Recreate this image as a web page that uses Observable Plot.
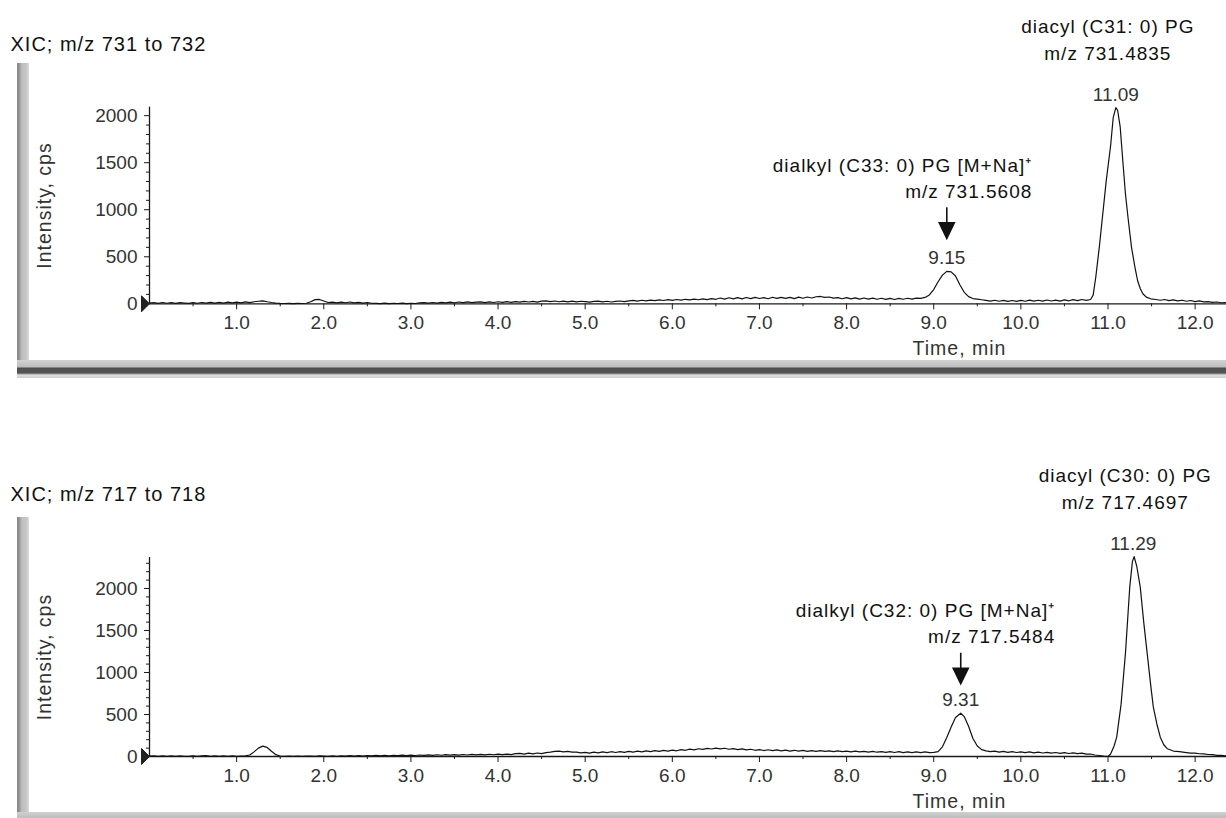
<!DOCTYPE html>
<html>
<head>
<meta charset="utf-8">
<script src="https://cdn.jsdelivr.net/npm/d3@7"></script>
<script src="https://cdn.jsdelivr.net/npm/@observablehq/plot@0.6"></script>
<style>
  body { margin: 0; background: #fff; }
  #wrap { position: relative; width: 1226px; height: 818px; overflow: hidden; background: #fff; }
  .panel { position: absolute; left: 0; width: 1226px; height: 409px; }
  .lbar { position: absolute; left: 17px; width: 12px;
    background: linear-gradient(to right, #8c8c8c 0px, #8c8c8c 2px, #a6a6a6 3px, #bfbfbf 5px, #c4c4c4 9px, #dcdcdc 12px); z-index: 2; }
  .bbar { position: absolute; left: 17px; right: 0; z-index: 2; }
  .bbar.top { background: linear-gradient(to bottom, #d2d2d2 0px, #bdbdbd 7px, #4f4f4f 8px, #555 13px, #e2e2e2 15px, #cdcdcd 18px); }
  .bbar.bot { background: linear-gradient(to bottom, #d0d0d0 0px, #bdbdbd 6px); }
</style>
</head>
<body>
<div id="wrap">
  <div class="panel" id="p1" style="top:0px"></div>
  <div class="panel" id="p2" style="top:409px"></div>
  <div class="lbar" style="top:63px;height:307px"></div>
  <div class="bbar top" style="top:360px;height:18px"></div>
  <div class="lbar" style="top:517px;height:301px"></div>
  <div class="bbar bot" style="top:812px;height:6px"></div>
</div>
<script>
// ---------- data ----------
const xTicks = [1, 2, 3, 4, 5, 6, 7, 8, 9, 10, 11, 12];
const xMinorTicks = [0.5, 1.5, 2.5, 3.5, 4.5, 5.5, 6.5, 7.5, 8.5, 9.5, 10.5, 11.5];
const yTicks = [0, 500, 1000, 1500, 2000];
const yMinorTicks = [100, 200, 300, 400, 600, 700, 800, 900, 1100, 1200, 1300, 1400, 1600, 1700, 1800, 1900, 2100, 2200, 2300];

// XIC m/z 731-732 : [time (min), intensity (cps)]
const trace731 = [[0,8],[0.05,12],[0.1,4],[0.15,14],[0.2,6],[0.25,12],[0.3,5],[0.35,13],[0.4,8],[0.45,4],[0.5,12],[0.55,6],[0.6,14],[0.65,7],[0.7,16],[0.75,8],[0.8,15],[0.85,7],[0.9,17],[0.95,9],[1.0,18],[1.05,10],[1.1,20],[1.15,12],[1.2,22],[1.25,27],[1.3,32],[1.35,22],[1.4,14],[1.45,8],[1.5,4],[1.55,3],[1.6,5],[1.65,2],[1.7,4],[1.75,3],[1.8,6],[1.85,22],[1.9,44],[1.95,46],[2.0,30],[2.05,14],[2.1,18],[2.15,10],[2.2,17],[2.25,11],[2.3,19],[2.35,10],[2.4,16],[2.45,8],[2.5,14],[2.55,6],[2.6,5],[2.65,2],[2.7,7],[2.75,2],[2.8,6],[2.85,3],[2.9,7],[2.95,2],[3.0,6],[3.05,3],[3.1,9],[3.15,12],[3.2,7],[3.25,14],[3.3,8],[3.35,16],[3.4,10],[3.45,17],[3.5,11],[3.55,19],[3.6,13],[3.65,20],[3.7,12],[3.75,18],[3.8,21],[3.85,13],[3.9,20],[3.95,14],[4.0,22],[4.05,15],[4.1,23],[4.15,16],[4.2,24],[4.25,17],[4.3,26],[4.35,19],[4.4,25],[4.45,18],[4.5,28],[4.55,32],[4.6,23],[4.65,30],[4.7,22],[4.75,29],[4.8,21],[4.85,28],[4.9,20],[4.95,27],[5.0,24],[5.05,18],[5.1,25],[5.15,28],[5.2,20],[5.25,27],[5.3,19],[5.35,26],[5.4,30],[5.45,23],[5.5,32],[5.55,36],[5.6,29],[5.65,38],[5.7,31],[5.75,40],[5.8,33],[5.85,42],[5.9,35],[5.95,44],[6.0,37],[6.05,46],[6.1,39],[6.15,48],[6.2,41],[6.25,50],[6.3,43],[6.35,52],[6.4,44],[6.45,55],[6.5,48],[6.55,62],[6.6,50],[6.65,64],[6.7,52],[6.75,66],[6.8,53],[6.85,67],[6.9,55],[6.95,68],[7.0,56],[7.05,66],[7.1,54],[7.15,70],[7.2,57],[7.25,69],[7.3,58],[7.35,68],[7.4,55],[7.45,71],[7.5,59],[7.55,72],[7.6,62],[7.65,75],[7.7,78],[7.75,68],[7.8,72],[7.85,60],[7.9,66],[7.95,54],[8.0,66],[8.05,52],[8.1,63],[8.15,50],[8.2,62],[8.25,49],[8.3,60],[8.35,48],[8.4,59],[8.45,47],[8.5,58],[8.55,46],[8.6,57],[8.65,48],[8.7,59],[8.75,50],[8.8,60],[8.85,58],[8.9,68],[8.95,94],[9.0,152],[9.05,234],[9.1,305],[9.15,345],[9.2,340],[9.25,295],[9.3,203],[9.35,122],[9.4,76],[9.45,56],[9.5,49],[9.55,43],[9.6,37],[9.65,29],[9.7,38],[9.75,27],[9.8,36],[9.85,26],[9.9,35],[9.95,25],[10.0,37],[10.05,27],[10.1,39],[10.15,29],[10.2,38],[10.25,28],[10.3,40],[10.35,30],[10.4,39],[10.45,29],[10.5,42],[10.55,32],[10.6,44],[10.65,34],[10.7,46],[10.75,37],[10.8,46],[10.83,92],[10.86,285],[10.9,600],[10.94,955],[10.98,1310],[11.03,1680],[11.06,1980],[11.09,2085],[11.11,2060],[11.14,1880],[11.17,1520],[11.2,1170],[11.23,915],[11.27,600],[11.31,385],[11.34,245],[11.37,162],[11.4,107],[11.44,71],[11.49,53],[11.55,46],[11.6,38],[11.65,46],[11.7,34],[11.75,42],[11.8,31],[11.85,38],[11.9,27],[11.95,35],[12.0,24],[12.05,31],[12.1,20],[12.15,24],[12.2,15],[12.25,19],[12.3,11],[12.35,14]];

// XIC m/z 717-718 : [time (min), intensity (cps)]
const trace717 = [[0,4],[0.05,9],[0.1,2],[0.15,8],[0.2,1],[0.25,7],[0.3,2],[0.35,9],[0.4,3],[0.45,1],[0.5,8],[0.55,2],[0.6,7],[0.65,10],[0.7,3],[0.75,8],[0.8,2],[0.85,9],[0.9,3],[0.95,8],[1.0,2],[1.05,6],[1.1,8],[1.15,18],[1.2,55],[1.25,100],[1.3,124],[1.35,108],[1.4,62],[1.45,22],[1.5,6],[1.55,2],[1.6,4],[1.65,3],[1.7,5],[1.75,2],[1.8,4],[1.85,6],[1.9,3],[1.95,8],[2.0,5],[2.05,2],[2.1,7],[2.15,3],[2.2,8],[2.25,4],[2.3,10],[2.35,5],[2.4,11],[2.45,6],[2.5,12],[2.55,7],[2.6,13],[2.65,8],[2.7,14],[2.75,9],[2.8,15],[2.85,10],[2.9,16],[2.95,11],[3.0,17],[3.05,12],[3.1,18],[3.15,13],[3.2,19],[3.25,14],[3.3,21],[3.35,15],[3.4,22],[3.45,16],[3.5,23],[3.55,17],[3.6,24],[3.65,18],[3.7,25],[3.75,19],[3.8,26],[3.85,20],[3.9,27],[3.95,21],[4.0,28],[4.05,22],[4.1,29],[4.15,23],[4.2,34],[4.25,38],[4.3,29],[4.35,40],[4.4,32],[4.45,42],[4.5,34],[4.55,47],[4.6,52],[4.65,60],[4.7,64],[4.75,55],[4.8,62],[4.85,52],[4.9,52],[4.95,44],[5.0,50],[5.05,41],[5.1,52],[5.15,44],[5.2,54],[5.25,46],[5.3,57],[5.35,48],[5.4,59],[5.45,50],[5.5,60],[5.55,52],[5.6,63],[5.65,55],[5.7,66],[5.75,58],[5.8,69],[5.85,61],[5.9,72],[5.95,64],[6.0,76],[6.05,68],[6.1,82],[6.15,74],[6.2,87],[6.25,79],[6.3,92],[6.35,84],[6.4,97],[6.45,89],[6.5,100],[6.55,90],[6.6,98],[6.65,86],[6.7,94],[6.75,82],[6.8,90],[6.85,78],[6.9,86],[6.95,74],[7.0,82],[7.05,71],[7.1,80],[7.15,69],[7.2,78],[7.25,67],[7.3,76],[7.35,65],[7.4,74],[7.45,64],[7.5,72],[7.55,62],[7.6,71],[7.65,61],[7.7,70],[7.75,60],[7.8,68],[7.85,58],[7.9,67],[7.95,57],[8.0,65],[8.05,56],[8.1,64],[8.15,54],[8.2,62],[8.25,53],[8.3,61],[8.35,51],[8.4,59],[8.45,50],[8.5,58],[8.55,48],[8.6,57],[8.65,47],[8.7,56],[8.75,46],[8.8,55],[8.85,47],[8.9,54],[8.95,46],[9.0,50],[9.05,58],[9.1,115],[9.15,225],[9.2,350],[9.25,465],[9.31,515],[9.35,475],[9.4,360],[9.45,215],[9.5,125],[9.55,82],[9.6,67],[9.65,58],[9.7,64],[9.75,53],[9.8,60],[9.85,50],[9.9,58],[9.95,48],[10.0,56],[10.05,46],[10.1,54],[10.15,44],[10.2,52],[10.25,42],[10.3,50],[10.35,40],[10.4,48],[10.45,38],[10.5,46],[10.55,36],[10.6,44],[10.65,34],[10.7,40],[10.75,28],[10.8,30],[10.85,18],[10.9,12],[10.95,4],[11.0,0],[11.03,30],[11.07,125],[11.1,230],[11.15,620],[11.2,1225],[11.25,2020],[11.28,2320],[11.3,2380],[11.33,2265],[11.37,2020],[11.41,1600],[11.45,1225],[11.49,850],[11.52,590],[11.56,390],[11.6,230],[11.64,140],[11.68,93],[11.75,65],[11.82,57],[11.9,47],[11.95,40],[12.0,40],[12.05,33],[12.1,32],[12.15,24],[12.2,23],[12.25,13],[12.3,14],[12.35,8]];

const peaks731 = [{t: 9.15, v: 345, label: "9.15"}, {t: 11.09, v: 2085, label: "11.09"}];
const peaks717 = [{t: 9.31, v: 515, label: "9.31"}, {t: 11.29, v: 2380, label: "11.29"}];

const notes731 = {
  title: "XIC; m/z 731 to 732",
  major: {t: 11.09, v: 2085, text: "diacyl (C31: 0) PG\nm/z 731.4835"},
  minor: {t: 9.15, v: 345, text: "dialkyl (C33: 0) PG [M+Na]\u207A\nm/z 731.5608"}
};
const notes717 = {
  title: "XIC; m/z 717 to 718",
  major: {t: 11.29, v: 2380, text: "diacyl (C30: 0) PG\nm/z 717.4697"},
  minor: {t: 9.31, v: 515, text: "dialkyl (C32: 0) PG [M+Na]\u207A\nm/z 717.5484"}
};

const xLabel = "Time, min";
const yLabel = "Intensity, cps";

// ---------- drawing ----------
const arrowDown = {
  draw(ctx) {
    ctx.moveTo(0, -31); ctx.lineTo(0, -14);
    ctx.moveTo(-7.5, -15.5); ctx.lineTo(7.5, -15.5); ctx.lineTo(0, 0); ctx.closePath();
  }
};
const originMarker = {
  draw(ctx) {
    ctx.moveTo(-8, -8); ctx.lineTo(0, 0); ctx.lineTo(-8, 8); ctx.closePath();
  }
};

function panel(trace, peaks, notes, o) {
  const data = trace.map(([t, v]) => ({t, v}));
  const svg = Plot.plot({
    width: 1226, height: 409,
    marginLeft: 149, marginRight: 0, marginTop: o.mt, marginBottom: o.mb,
    x: {domain: [0, 12.36], label: null},
    y: {domain: [0, o.yMax], label: null},
    style: {fontFamily: "'Liberation Sans', Arial, sans-serif", fontSize: "19px", color: "#1a1a1a", background: "transparent", overflow: "visible"},
    marks: [
      Plot.axisY(yMinorTicks.filter(d => d < o.yMax), {tickSize: 3, tickFormat: () => "", label: null, strokeWidth: 1}),
      Plot.axisY(yTicks, {tickSize: 5, tickPadding: 7, tickFormat: d => String(d), label: null, fill: "#333", fontSize: 19}),
      Plot.axisX(xMinorTicks, {tickSize: 3, tickFormat: () => "", label: null}),
      Plot.axisX(xTicks, {tickSize: 6, tickPadding: 6, tickFormat: d => d.toFixed(1), label: null, fill: "#333", fontSize: 19}),
      Plot.ruleX([0], {stroke: "#1a1a1a", strokeWidth: 1.3}),
      Plot.ruleY([0], {stroke: "#1a1a1a", strokeWidth: 1.3}),
      Plot.line(data, {x: "t", y: "v", stroke: "#111", strokeWidth: 1.2}),
      Plot.dot([0], {x: d => d, y: 0, symbol: originMarker, fill: "#222", stroke: "#222", strokeWidth: 1}),
      Plot.text(peaks, {x: "t", y: "v", text: "label", dy: -7, lineAnchor: "bottom", fill: "#333", fontSize: 19}),
      Plot.dot([notes.minor], {x: "t", y: "v", symbol: arrowDown, dy: o.arrowDy, fill: "#111", stroke: "#111", strokeWidth: 1.6}),
      Plot.text([notes.major], {x: "t", y: "v", text: "text", dx: -8, dy: -48, lineAnchor: "bottom", lineHeight: 1.4, fontSize: 19, fill: "#111"}),
      Plot.text([notes.minor], {x: "t", y: "v", text: "text", textAnchor: "end", dx: o.minorDx, dy: o.minorDy, lineAnchor: "bottom", lineHeight: 1.4, fontSize: 19, fill: "#111"}),
      Plot.text([notes.title], {frameAnchor: "top-left", text: d => d, textAnchor: "start", lineAnchor: "bottom", dx: -139, dy: -56.5, fontSize: 20, fill: "#111"}),
      Plot.text([yLabel], {frameAnchor: "left", text: d => d, rotate: -90, textAnchor: "middle", lineAnchor: "middle", dx: -104.5, fontSize: 19.5, fill: "#333"}),
      Plot.text([xLabel], {frameAnchor: "bottom", text: d => d, textAnchor: "middle", dx: 271.5, dy: 51.5, lineAnchor: "bottom", fontSize: 19.5, fill: "#333"})
    ]
  });
  // widen the label lettering slightly, as in the scanned original
  const spaced = new Set([notes.title, xLabel, yLabel, notes.major.text.replace("\n", ""), notes.minor.text.replace("\n", "")]);
  svg.querySelectorAll("text").forEach(t => {
    if (spaced.has(t.textContent)) t.style.letterSpacing = "1px";
  });
  return svg;
}

document.getElementById("p1").appendChild(
  panel(trace731, peaks731, notes731, {mt: 106.7, mb: 105.7, yMax: 2090, arrowDy: -33, minorDx: 85.5, minorDy: -73})
);
document.getElementById("p2").appendChild(
  panel(trace717, peaks717, notes717, {mt: 148, mb: 62, yMax: 2369, arrowDy: -29.5, minorDx: 94.5, minorDy: -70})
);
</script>
</body>
</html>
